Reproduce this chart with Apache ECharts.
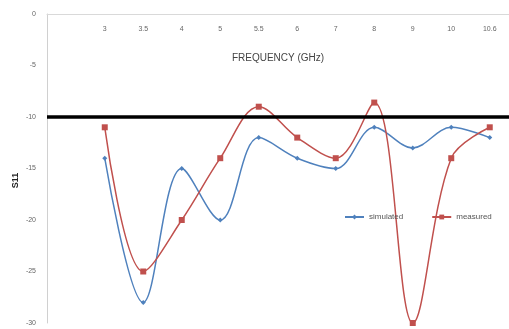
<!DOCTYPE html>
<html>
<head>
<meta charset="utf-8">
<script src="https://cdn.jsdelivr.net/npm/echarts@6/dist/echarts.min.js"></script>
<style>
  html, body { margin: 0; padding: 0; background: #fff; }
  #chart { width: 509px; height: 329px; }
</style>
</head>
<body>
<div id="chart"></div>
<script>
// frequency (GHz) — one blank slot first, as in the original sheet
const frequencies = ['3', '3.5', '4', '5', '5.5', '6', '7', '8', '9', '10', '10.6'];
const simulated = [-14, -28, -15, -20, -12, -14, -15, -11, -13, -11, -12];
const measured = [-11, -25, -20, -14, -9, -12, -14, -8.6, -30, -14, -11];
const threshold = -10;
const yTicks = { min: -30, max: 0, step: 5 };

const categories = [''].concat(frequencies);

const chart = echarts.init(document.getElementById('chart'));

const tickFont = { color: '#666', fontSize: 7, fontFamily: 'Liberation Sans' };

chart.setOption({
  animation: false,
  grid: { left: 47, top: 14, width: 472, bottom: 6, containLabel: false },
  legend: {
    orient: 'horizontal',
    data: ['simulated', 'measured'],
    left: 344,
    top: 213,
    padding: 0,
    itemWidth: 19,
    itemHeight: 6,
    itemGap: 28,
    textStyle: { color: '#555', fontSize: 8, fontFamily: 'Liberation Sans' },
  },
  xAxis: {
    type: 'category',
    position: 'top',
    data: categories,
    boundaryGap: true,
    axisLine: { lineStyle: { color: '#d9d9d9', width: 1 } },
    axisTick: { show: false },
    axisLabel: { ...tickFont, inside: true, margin: 12, interval: 0 },
    splitLine: { show: false },
    name: 'FREQUENCY (GHz)',
    nameLocation: 'middle',
    nameGap: -49,
    nameMoveOverlap: false,
    nameTextStyle: { color: '#444', fontSize: 10, fontFamily: 'Liberation Sans' },
  },
  yAxis: {
    type: 'value',
    min: yTicks.min,
    max: yTicks.max,
    interval: yTicks.step,
    axisLine: { show: true, lineStyle: { color: '#d0d0d0', width: 1 } },
    axisTick: { show: false },
    axisLabel: { ...tickFont, margin: 11 },
    splitLine: { show: false },
    name: 'S11',
    nameLocation: 'middle',
    nameGap: 27,
    nameMoveOverlap: false,
    nameTextStyle: { color: '#222', fontSize: 9, fontWeight: 'bold', fontFamily: 'Liberation Sans', padding: [0, 24, 0, 0] },
  },
  series: [
    {
      name: 'simulated',
      type: 'line',
      smooth: 0.35,
      data: [null].concat(simulated),
      symbol: 'diamond',
      symbolSize: 5,
      itemStyle: { color: '#4f81bd' },
      lineStyle: { color: '#4f81bd', width: 1.5 },
    },
    {
      name: 'measured',
      type: 'line',
      smooth: 0.35,
      data: [null].concat(measured),
      symbol: 'rect',
      symbolSize: 6,
      itemStyle: { color: '#c0504d' },
      lineStyle: { color: '#c0504d', width: 1.5 },
      markLine: {
        silent: true,
        symbol: 'none',
        label: { show: false },
        lineStyle: { color: '#000', type: 'solid', width: 3.5 },
        data: [{ yAxis: threshold }],
      },
    },
  ],
});
</script>
</body>
</html>
